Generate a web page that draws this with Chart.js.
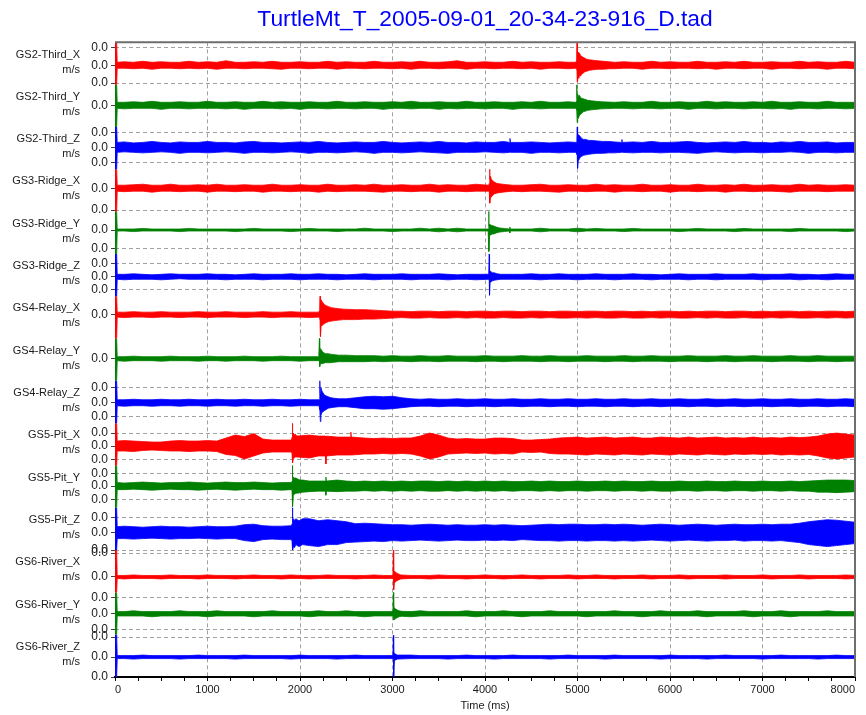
<!DOCTYPE html>
<html>
<head>
<meta charset="utf-8">
<title>TurtleMt_T_2005-09-01_20-34-23-916_D.tad</title>
<script src="https://cdn.jsdelivr.net/npm/chart.js@4.4.0/dist/chart.umd.min.js"></script>
<style>
  body { margin: 0; background: #fff; }
  canvas { display: block; }
</style>
</head>
<body>
<canvas id="seismo" width="866" height="715"></canvas>
<script>
// Geophone channels, top to bottom
const traceNames = [
  'GS2-Third_X', 'GS2-Third_Y', 'GS2-Third_Z',
  'GS3-Ridge_X', 'GS3-Ridge_Y', 'GS3-Ridge_Z',
  'GS4-Relay_X', 'GS4-Relay_Y', 'GS4-Relay_Z',
  'GS5-Pit_X', 'GS5-Pit_Y', 'GS5-Pit_Z',
  'GS6-River_X', 'GS6-River_Y', 'GS6-River_Z'
];

// amplitudes are in µm/s, axes are labelled in m/s
const UNIT = 1e-6;

// per-channel axis limits (µm/s)
const axisTop =    [23, 20.5, 20.5, 19, 18.5, 23, 18.5, 20, 22, 23, 20.5, 25, 27, 21.5, 22.5];
const axisBottom = [-19.5, -21.5, -22, -23.5, -24, -19.5, -24, -22, -20.5, -19.5, -21.5, -17.5, -15.5, -21, -20];

// grid / tick values on each channel axis (µm/s)
const gridTicks = [
  [18, 0, -18], [0], [15, 0, -15.5],
  [0, -22], [0, -19], [13.5, 0, -13],
  [0], [0], [15.5, 0, -14],
  [13, 0, -13.5], [12.5, 0, -13], [15.5, 0, -17.5],
  [24, 0], [16.5, 0, -15.5], [20, 0, -20]
];

// noise envelope sampled every 100 ms
const bandTime = [
  0, 100, 200, 300, 400, 500, 600, 700, 800, 900,
  1000, 1100, 1200, 1300, 1400, 1500, 1600, 1700, 1800, 1900,
  2000, 2100, 2200, 2300, 2400, 2500, 2600, 2700, 2800, 2900,
  3000, 3100, 3200, 3300, 3400, 3500, 3600, 3700, 3800, 3900,
  4000, 4100, 4200, 4300, 4400, 4500, 4600, 4700, 4800, 4900,
  5000, 5100, 5200, 5300, 5400, 5500, 5600, 5700, 5800, 5900,
  6000, 6100, 6200, 6300, 6400, 6500, 6600, 6700, 6800, 6900,
  7000, 7100, 7200, 7300, 7400, 7500, 7600, 7700, 7800, 7900,
  8000
];

// upper edge of the noise band, one row per channel
const bandHi = [
  [3,3.5,3,4,3,3.5,3,3,4,3, 3.5,3,4.5,3,3,3.5,3,4,3,3, 3.5,3,3,4,3,3.5,3,3,4,3, 3,3.5,3,4,3,3,3.5,4.5,3,3,
   3.5,3,3,4,3,3.5,3,3,3.5,3, 4,4,3.5,4,3,3.5,3,3,4,3, 3.5,3,3,4,3,3,3.5,3,4,3, 3,3.5,3,3,4,3,3.5,3,3,4, 3],
  [3,3,3.5,3,4,3,3,3.5,3,3, 4,3,3,3.5,3,3,4,3,3.5,3, 3,3.5,3,3,4,3,3,3.5,3,3, 3.5,3,4,3,3,3.5,3,3,4,3,
   3,3.5,3,3,3.5,3,4,3,3,3.5, 5,4.5,4,3.5,3,3.5,3,3,4,3, 3,3.5,3,3,4,3,3.5,3,3,3.5, 3,4,3,3,3.5,3,3,4,3,3, 3],
  [5,5.5,4.5,5,6,5,4.5,5.5,5,5, 6,5,5,4.5,5.5,6,5,5,4.5,5, 5.5,5,6,5,4.5,5,5.5,5,5,6, 5,4.5,5,5.5,5,6,5,5,4.5,5.5,
   5,5,6,5.5,5,5.5,5,4.5,5,5.5, 8,7,6.5,6,6,6,5.5,5,6,5, 5,5.5,6,5,4.5,5,5.5,5,6,5, 5,4.5,5.5,5,6,5,5,5.5,4.5,5, 5],
  [3,3,3.5,4,3,3,4,3,3,3.5, 3,4,3,3,3.5,3,3,4,3,3, 3.5,3,3,4,3,3,3.5,3,4,3, 3,3.5,3,3,4,3,3.5,3,3,4,
   3,3.5,4,3.5,3,3.5,4,3,3,3.5, 3,3,4,3,3.5,3,3,4,3,3, 3.5,3,3,4,3,3,3.5,3,4,3, 3,3.5,3,3,4,3,3.5,3,3,3.5, 3],
  [1,1,1,1.6,1,1,1,1,1.6,1, 1,1,1,1,1,1.6,1,1,1,1, 1,1.6,1,1,1,1,1,1.8,1,1, 1,1,1,1.8,1,1.8,1,1.8,1,1,
   1,1,1,1.8,1,1,1.8,1,1,1, 1.8,1,1.6,1,1,1,1.6,1,1,1, 1,1,1,1.6,1,1,1,1,1.6,1, 1,1,1,1,1.6,1,1,1,1,1, 1],
  [2.5,2.5,3,2.5,2,2.5,3,2.5,2.5,2.5, 3,2.5,2.5,2,2.5,3,2.5,2.5,2.5,3, 2.5,2.5,3,2.5,2.5,2,2.5,3,2.5,2.5, 2.5,3,2.5,2.5,2.5,3,2.5,2,2.5,2.5,
   2.5,3,2.5,2.5,2.5,3,2.5,2.5,3,2.5, 2.5,2.5,3,2.5,2.5,2.5,3,2.5,2.5,2, 2.5,3,2.5,2.5,2.5,3,2.5,2.5,2.5,3, 2.5,2.5,2.5,3,2.5,2.5,2,2.5,3,2.5, 2.5],
  [2.5,2.5,3,2.5,2.5,3,2.5,2.5,2.5,3, 2.5,2.5,3,2.5,2.5,2.5,3,2.5,2.5,3, 2.5,2.5,2.5,8,7,6,5,5,4.5,4, 3.5,3.5,3,3.5,3.5,3,3.5,3.5,3,3.5,
   3.5,3,3.5,3.5,3,3.5,3.5,3,3.5,3.5, 3,3.5,3.5,3,3.5,3.5,3,3.5,3,3.5, 3.5,3,3.5,3,3.5,3.5,3,3.5,3.5,3, 3.5,3,3.5,3.5,3,3.5,3,3.5,3.5,3, 3.5],
  [2,2,2.5,2,2,2,2.5,2,2,2, 2.5,2,2,2,2.5,2,2,2,2.5,2, 2,2,2,5,4,3.5,3,3,3,2.5, 3,2.5,2.5,3,2.5,2.5,3,2.5,2.5,2.5,
   3,2.5,2.5,2.5,3,2.5,2.5,3,2.5,2.5, 2.5,3,2.5,2.5,2.5,3,2.5,2.5,3,2.5, 2.5,2.5,3,2.5,2.5,2.5,3,2.5,2.5,3, 2.5,2.5,2.5,3,2.5,2.5,3,2.5,2.5,2.5, 2.5],
  [3,3,3.5,3,3,3.5,3,3,3.5,3, 3,3.5,3,3,3.5,3,3,3.5,3,3, 3.5,3,3,8,5,4,5,6,6.5,6, 6.5,5,4,3.5,4,3.5,3.5,4,3.5,3.5,
   4,3.5,3.5,4,3.5,3.5,4,3.5,3.5,4, 3.5,3.5,4,3.5,3.5,4,3.5,3.5,4,3.5, 3.5,4,3.5,3.5,4,3.5,3.5,4,3.5,3.5, 4,3.5,3.5,4,3.5,3.5,4,3.5,3.5,4, 3.5],
  [5,5.5,5,4.5,4,4,5,5.5,5,5, 5.5,5,8,11,9.5,12.5,7,6,6,6, 10,11,10,11,9,10,8,8,7.5,8, 7.5,8,8,10,13,11,8,7,7.5,7,
   7,8,8,7.5,6,6,6.5,7,8,8.5, 9,8,8.5,9,8,8.5,9,8,8,9, 8.5,8,9,8,8.5,9,8,8.5,8,9, 8,8.5,8,9,8.5,9,10,12,13,12, 11],
  [3.5,3,3.5,4,3.5,3,3.5,3.5,4,3.5, 3,3.5,4,3.5,3.5,4,3.5,3,3.5,3.5, 6,5,5,4.5,6,5,4.5,5,4.5,5, 4.5,5,4.5,5,5,4.5,5,4.5,5,4.5,
   5,4.5,5,4.5,4.5,5,4.5,5,4.5,4.5, 5,4.5,4.5,5,4.5,5,4.5,4.5,5,4.5, 4.5,5,4.5,4.5,5,4.5,4.5,5,4.5,4.5, 5,4.5,4.5,5,4.5,5,5.5,6,6,6, 5.5],
  [6,6.5,6,5.5,6,6.5,6,6,5.5,6, 6.5,6,6,6.5,8,8.5,7,6.5,6.5,7, 13,14,12,13,12,11,9,9.5,9,8.5, 8,8,7.5,8,8.5,8,7.5,8,7.5,7.5,
   8,7.5,8,7.5,7,7.5,8,8.5,8,8.5, 8.5,8,8,8.5,8,8.5,8,7.5,8,8.5, 8,7.5,8,8.5,8,7.5,8,8.5,8,8, 8.5,8,8.5,8.5,9.5,11,12,13,12.5,11.5, 10.5],
  [1.5,1.5,2,1.5,1.5,1.5,2,1.5,1.5,1.5, 2,1.5,1.5,1.5,1.5,2,1.5,1.5,1.5,2, 1.5,1.5,1.5,2,1.5,1.5,1.5,1.5,2,1.5, 1.5,2,1.5,1.5,1.5,2,1.5,1.5,1.5,1.5,
   2,1.5,1.5,1.5,2,1.5,1.5,1.5,1.5,2, 1.5,1.5,2,1.5,1.5,1.5,1.5,2,1.5,1.5, 1.5,2,1.5,1.5,1.5,1.5,2,1.5,1.5,1.5, 2,1.5,1.5,1.5,2,1.5,1.5,1.5,1.5,2, 1.5],
  [2.2,2.2,3,2.2,2.2,2.2,2.2,3,2.2,2.2, 2.2,3,2.2,2.2,2.2,2.2,2.2,3,2.2,2.2, 2.2,2.2,3,2.2,2.2,3,2.2,2.2,2.2,2.2, 2.2,2.2,2.2,3,2.2,2.2,2.2,2.2,3,2.2,
   2.2,2.2,3,2.2,2.2,2.2,2.2,3,2.2,2.2, 2.2,2.2,2.2,2.2,3,2.2,2.2,2.2,2.2,3, 2.2,2.2,2.2,3,2.2,2.2,2.2,2.2,3,2.2, 2.2,2.2,3,2.2,2.2,2.2,2.2,3,2.2,2.2, 2.2],
  [1.5,1.5,1.5,2,1.5,1.5,1.5,1.5,1.5,2, 1.5,1.5,1.5,1.5,2,1.5,1.5,1.5,1.5,1.5, 2,1.5,1.5,1.5,1.5,1.5,2,1.5,1.5,1.5, 1.5,1.5,2,1.5,1.5,1.5,1.5,1.5,2,1.5,
   1.5,1.5,1.5,2,1.5,1.5,1.5,1.5,1.5,2, 1.5,1.5,1.5,1.5,2,1.5,1.5,1.5,1.5,1.5, 2,1.5,1.5,1.5,1.5,1.5,2,1.5,1.5,1.5, 1.5,1.5,2,1.5,1.5,1.5,1.5,1.5,2,1.5, 1.5]
];

// lower edge of the noise band
const bandLo = [
  [-3,-3,-3.5,-3,-4,-3,-3,-3.5,-3,-3.5, -3,-4,-3,-3,-3.5,-3,-3,-3.5,-4,-3, -3,-3.5,-3,-3,-4,-3,-3,-3.5,-3,-3, -3.5,-3,-4,-3,-3,-3.5,-3,-3,-4,-3,
   -3,-3.5,-3,-3,-3.5,-3,-4,-3,-3,-3.5, -4,-4,-3.5,-3,-3.5,-3,-3,-4,-3,-3, -3.5,-3,-3,-3.5,-3,-4,-3,-3,-3.5,-3, -3,-4,-3,-3,-3.5,-3,-3,-4,-3,-3, -3.5],
  [-3,-3.5,-3,-3,-3,-4,-3,-3,-3.5,-3, -3,-3,-3.5,-3,-4,-3,-3,-3,-3.5,-3, -4,-3,-3,-3.5,-3,-3,-3.5,-3,-3,-4, -3,-3,-3.5,-3,-3,-4,-3,-3.5,-3,-3,
   -3.5,-3,-3,-4,-3,-3,-3.5,-3,-3,-3, -5,-4.5,-4,-3.5,-3,-3,-3.5,-3,-3,-3.5, -3,-3,-4,-3,-3,-3.5,-3,-3,-3.5,-3, -3,-3.5,-3,-4,-3,-3,-3.5,-3,-3,-3.5, -3],
  [-5,-4.5,-5,-5.5,-5,-4.5,-5,-6,-5,-5, -5.5,-5,-4.5,-5,-6,-5,-5,-5.5,-5,-4.5, -5,-6,-5,-5,-5.5,-5,-4.5,-5,-6,-5, -5,-5.5,-5,-4.5,-5,-5.5,-6,-5,-5,-5,
   -4.5,-5,-5.5,-5,-5,-6,-5,-5,-5.5,-5, -8,-7,-6.5,-6,-6,-5.5,-5.5,-5,-5,-5.5, -5,-5,-5.5,-6,-5,-4.5,-5,-5.5,-5,-5, -5.5,-5,-5,-4.5,-5,-6,-5,-5,-5.5,-5, -5],
  [-3,-3.5,-3,-3,-4,-3,-3,-3.5,-3,-3, -4,-3,-3,-3.5,-3,-3,-4,-3,-3,-3.5, -3,-3,-4,-3,-3.5,-3,-3,-3,-3.5,-4, -3,-3,-3.5,-3,-3,-4,-3,-3,-3.5,-3,
   -3,-4,-3.5,-3,-3.5,-3,-3,-3.5,-4,-3, -3,-3.5,-3,-3,-4,-3,-3,-3.5,-3,-3, -4,-3,-3,-3.5,-3,-3,-4,-3,-3,-3.5, -3,-3,-3.5,-4,-3,-3,-3,-3.5,-3,-3, -3],
  [-1,-1,-1.6,-1,-1,-1,-1,-1.6,-1,-1, -1,-1,-1,-1.6,-1,-1,-1,-1,-1,-1.6, -1,-1,-1,-1,-1.6,-1,-1,-1,-1,-1, -1.6,-1,-1,-1,-1,-1.8,-1,-1.8,-1,-1,
   -1,-1,-1,-1.8,-1,-1,-1.8,-1,-1,-1, -1.8,-1,-1,-1,-1,-1.6,-1,-1,-1,-1, -1,-1.6,-1,-1,-1,-1,-1,-1.6,-1,-1, -1,-1,-1,-1.6,-1,-1,-1,-1,-1,-1.6, -1],
  [-2.5,-3,-2.5,-2.5,-2.5,-3,-2.5,-2,-2.5,-2.5, -2.5,-2.5,-3,-2.5,-2.5,-2.5,-3,-2.5,-2.5,-2.5, -3,-2.5,-2.5,-2.5,-3,-2.5,-2.5,-2.5,-3,-2.5, -2.5,-2.5,-3,-2.5,-2.5,-2.5,-3,-2.5,-2.5,-3,
   -2.5,-2.5,-3,-2.5,-2.5,-2.5,-3,-2.5,-2.5,-2.5, -3,-2.5,-2.5,-2.5,-3,-2.5,-2.5,-2.5,-3,-2.5, -2.5,-2.5,-3,-2.5,-2.5,-3,-2.5,-2.5,-2.5,-2.5, -3,-2.5,-2.5,-2.5,-3,-2.5,-2.5,-3,-2.5,-2.5, -2.5],
  [-2.5,-3,-2.5,-2.5,-3,-2.5,-2.5,-3,-2.5,-2.5, -3,-2.5,-2.5,-2.5,-3,-2.5,-2.5,-3,-2.5,-2.5, -2.5,-3,-2.5,-7,-6,-5.5,-5,-4.5,-4.5,-4, -3.5,-3,-3.5,-3.5,-3,-3.5,-3.5,-3,-3.5,-3,
   -3.5,-3.5,-3,-3.5,-3.5,-3,-3.5,-3,-3.5,-3.5, -3,-3.5,-3,-3.5,-3.5,-3,-3.5,-3.5,-3,-3.5, -3,-3.5,-3.5,-3,-3.5,-3,-3.5,-3.5,-3,-3.5, -3.5,-3,-3.5,-3,-3.5,-3.5,-3,-3.5,-3,-3.5, -3],
  [-2,-2.5,-2,-2,-2,-2.5,-2,-2,-2,-2.5, -2,-2,-2.5,-2,-2,-2,-2.5,-2,-2,-2, -2.5,-2,-2,-4,-3.5,-3,-3,-3,-2.5,-3, -2.5,-2.5,-3,-2.5,-2.5,-3,-2.5,-2.5,-2.5,-3,
   -2.5,-2.5,-3,-2.5,-2.5,-2.5,-3,-2.5,-2.5,-3, -2.5,-2.5,-2.5,-3,-2.5,-2.5,-3,-2.5,-2.5,-2.5, -3,-2.5,-2.5,-2.5,-3,-2.5,-2.5,-3,-2.5,-2.5, -2.5,-3,-2.5,-2.5,-2.5,-3,-2.5,-2.5,-3,-2.5, -2.5],
  [-3,-3.5,-3,-3,-3.5,-3,-3,-3.5,-3,-3, -3.5,-3,-3,-3.5,-3,-3,-3.5,-3,-3,-3.5, -3,-3,-3,-8,-5,-4,-5,-6,-6,-6.5, -6,-5,-4,-3.5,-3.5,-4,-3.5,-3.5,-4,-3.5,
   -3.5,-4,-3.5,-3.5,-4,-3.5,-3.5,-4,-3.5,-3.5, -4,-3.5,-3.5,-4,-3.5,-3.5,-4,-3.5,-3.5,-4, -3.5,-3.5,-4,-3.5,-3.5,-4,-3.5,-3.5,-4,-3.5, -3.5,-4,-3.5,-3.5,-4,-3.5,-3.5,-4,-3.5,-3.5, -4],
  [-5,-5,-5.5,-4.5,-4,-4.5,-5,-5,-5.5,-5, -5,-5.5,-8.5,-9.5,-13,-10,-7,-6,-6,-6, -10,-12,-10,-10,-9,-11,-8,-8,-8,-7.5, -8,-7.5,-8,-10,-13,-11,-8,-7.5,-7,-7.5,
   -7,-8,-7.5,-8,-6,-6.5,-6,-7.5,-8,-8, -8.5,-9,-8,-8.5,-9,-8,-8.5,-9,-8,-8.5, -9,-8,-8.5,-9,-8,-8.5,-9,-8,-8.5,-8, -8.5,-8,-9,-8.5,-9,-8.5,-10,-12,-13,-12, -11],
  [-3.5,-3.5,-3,-3.5,-4,-3.5,-3,-3.5,-3.5,-4, -3.5,-3,-3.5,-4,-3.5,-3,-3.5,-3.5,-4,-3.5, -6,-5.5,-5,-5,-5.5,-5,-5,-4.5,-5,-4.5, -5,-4.5,-5,-4.5,-5,-5,-4.5,-5,-4.5,-5,
   -4.5,-5,-4.5,-5,-4.5,-4.5,-5,-4.5,-5,-4.5, -4.5,-5,-4.5,-4.5,-5,-4.5,-4.5,-5,-4.5,-5, -5,-4.5,-4.5,-5,-4.5,-4.5,-5,-4.5,-4.5,-5, -4.5,-4.5,-5,-4.5,-5,-5,-6,-6,-6.5,-6, -5.5],
  [-6,-6,-6.5,-6,-5.5,-6,-6.5,-6,-6,-5.5, -6,-6.5,-6,-6,-8,-9,-7,-6.5,-7,-7, -14,-13,-14,-12,-12,-10,-9.5,-9,-8.5,-9, -8,-8.5,-8,-7.5,-8,-8.5,-8,-7.5,-8,-8,
   -7.5,-8,-7.5,-8,-7,-7.5,-8,-8,-8.5,-8, -8,-8.5,-8,-8,-8.5,-8,-8.5,-8,-7.5,-8, -8.5,-8,-7.5,-8,-8.5,-8,-8,-7.5,-8.5,-8, -8,-8.5,-8,-9,-10,-12,-13,-14,-13,-12, -11],
  [-1.5,-2,-1.5,-1.5,-1.5,-2,-1.5,-1.5,-1.5,-2, -1.5,-1.5,-1.5,-2,-1.5,-1.5,-1.5,-1.5,-2,-1.5, -1.5,-2,-1.5,-1.5,-1.5,-1.5,-2,-1.5,-1.5,-1.5, -2,-1.5,-1.5,-1.5,-2,-1.5,-1.5,-1.5,-2,-1.5,
   -1.5,-1.5,-2,-1.5,-1.5,-1.5,-2,-1.5,-1.5,-1.5, -2,-1.5,-1.5,-1.5,-2,-1.5,-1.5,-1.5,-2,-1.5, -1.5,-1.5,-2,-1.5,-1.5,-1.5,-2,-1.5,-1.5,-1.5, -1.5,-2,-1.5,-1.5,-1.5,-2,-1.5,-1.5,-1.5,-2, -1.5],
  [-2.2,-2.2,-2.2,-2.2,-3,-2.2,-2.2,-2.2,-2.2,-2.2, -3,-2.2,-2.2,-2.2,-2.2,-3,-2.2,-2.2,-2.2,-2.2, -2.2,-3,-2.2,-2.2,-2.2,-2.2,-2.2,-3,-2.2,-2.2, -2.2,-2.2,-3,-2.2,-2.2,-2.2,-2.2,-2.2,-2.2,-3,
   -2.2,-2.2,-2.2,-2.2,-3,-2.2,-2.2,-2.2,-2.2,-2.2, -2.2,-3,-2.2,-2.2,-2.2,-2.2,-2.2,-3,-2.2,-2.2, -2.2,-2.2,-2.2,-2.2,-3,-2.2,-2.2,-2.2,-2.2,-3, -2.2,-2.2,-2.2,-3,-2.2,-2.2,-2.2,-2.2,-2.2,-2.2, -2.2],
  [-1.5,-1.5,-2,-1.5,-1.5,-1.5,-1.5,-2,-1.5,-1.5, -1.5,-1.5,-1.5,-2,-1.5,-1.5,-1.5,-1.5,-1.5,-2, -1.5,-1.5,-1.5,-1.5,-2,-1.5,-1.5,-1.5,-1.5,-1.5, -2,-1.5,-1.5,-1.5,-1.5,-1.5,-2,-1.5,-1.5,-1.5,
   -1.5,-2,-1.5,-1.5,-1.5,-1.5,-1.5,-2,-1.5,-1.5, -1.5,-1.5,-1.5,-2,-1.5,-1.5,-1.5,-1.5,-1.5,-2, -1.5,-1.5,-1.5,-1.5,-2,-1.5,-1.5,-1.5,-1.5,-1.5, -2,-1.5,-1.5,-1.5,-1.5,-1.5,-2,-1.5,-1.5,-1.5, -1.5]
];

// start-up transient and first arrivals: [time ms, upper, lower] in µm/s
const bursts = [
  [[0,23,-19.5],[18,23,-19.5],[24,3,-3],
   [4980,3,-3],[4990,5,-4],[4995,23,-6],[4999,9,-17],[5006,13,-12],[5014,11,-13],[5022,12,-10],[5032,10,-11],
   [5045,9,-9],[5060,8,-8],[5080,7,-6.5],[5100,6,-6],[5130,5.5,-5],[5170,5,-4.5],[5220,4.5,-4],[5280,4,-4],[5340,3.5,-3.5]],
  [[0,20.5,-21.5],[18,20.5,-21.5],[24,3,-3],
   [4980,3,-3],[4988,4,-4],[4992,20.5,-5],[4996,7,-17],[5002,11,-12],[5010,9,-13],[5020,10,-10],[5032,8,-9],
   [5045,7,-8],[5060,6.5,-6.5],[5080,6,-6],[5110,5,-5],[5150,4.5,-4.5],[5200,4,-4],[5260,3.5,-3.5]],
  [[0,20.5,-22],[18,20.5,-22],[24,5,-5],
   [4265,5,-5],[4270,9,-5],[4275,5,-5],
   [4985,5,-5],[4993,8,-7],[4997,20.5,-8],[5001,10,-21],[5008,13,-14],[5018,12,-12],[5030,11,-10],[5045,9,-9],
   [5065,8,-8],[5090,8,-7.5],[5120,7,-7],[5160,7,-6.5],[5210,6.5,-6],[5270,6,-6],[5340,6,-5.5],[5400,5.5,-5.5],
   [5475,5,-5],[5480,8,-5],[5485,5,-5]],
  [[0,19,-23.5],[18,19,-23.5],[24,3,-3],
   [4040,3,-3],[4046,5,-4],[4050,21,-5],[4053,9,-15],[4058,12,-10],[4066,10,-9],[4076,8,-8],[4090,7,-6.5],
   [4105,6,-5.5],[4125,5,-5],[4150,4.5,-4.5],[4190,4,-4],[4240,3.5,-3.5],[4300,3,-3]],
  [[0,18.5,-24],[18,18.5,-24],[24,1,-1],
   [4034,1,-1],[4040,22,-3],[4043,4,-21.5],[4050,6,-5],[4062,5,-5],[4078,4.5,-4],[4095,4,-4],[4120,3,-3],
   [4160,2,-2],[4210,1.5,-1.5],[4262,1,-1],[4268,3,-3],[4274,1,-1]],
  [[0,23,-19.5],[18,23,-19.5],[24,2.5,-2.5],
   [4040,2.5,-2.5],[4046,25,-4],[4049,5,-18.5],[4055,6,-6],[4065,5,-5],[4080,4,-4],[4100,4,-3.5],[4130,3,-3],[4170,2.5,-2.5]],
  [[0,18.5,-24],[18,18.5,-24],[24,2.5,-2.5],
   [2205,2.5,-2.5],[2212,5,-4],[2217,19.5,-6],[2221,8,-22],[2228,15,-12],[2238,13,-11],[2250,12,-10],[2265,10,-9],
   [2285,9,-8],[2310,8,-7],[2340,7,-6.5],[2375,6.5,-6],[2420,6,-5.5],[2470,5.5,-5]],
  [[0,20,-22],[18,20,-22],[24,2,-2],
   [2203,2,-2],[2210,22,-3],[2213,5,-8],[2220,10,-5],[2230,9,-5],[2242,7,-5],[2256,6,-4.5],[2275,5,-4],
   [2300,5,-4],[2330,4.5,-4],[2370,4,-3.5],[2420,3.5,-3]],
  [[0,22,-20.5],[18,22,-20.5],[24,3,-3],
   [2206,3,-3],[2212,6,-5],[2216,22.5,-7],[2220,9,-19],[2226,15,-13],[2236,12,-10],[2248,10,-9],[2262,8,-8],
   [2280,7,-7],[2305,6,-5.5],[2335,5,-5],[2370,4.5,-4.5],[2420,4,-4]],
  [[0,23,-19.5],[18,23,-19.5],[24,5,-5],
   [1908,6,-6],[1914,9,-8],[1918,24,-9],[1921,10,-17],[1928,13,-12],[1938,11,-12],[1950,12,-11],[1965,10,-11],
   [2275,10,-10],[2280,8,-18],[2285,10,-10],
   [2545,9,-9],[2550,14,-9],[2555,9,-9]],
  [[0,20.5,-21.5],[18,20.5,-21.5],[24,3.5,-3.5],
   [1908,3.5,-3.5],[1914,5,-5],[1918,21,-6],[1921,8,-20.5],[1928,9,-9],[1940,8,-8],[1955,8,-7],[1975,7,-7],
   [2000,6,-6.5],[2030,6,-6],
   [2275,5,-5],[2280,9,-9],[2285,5,-5]],
  [[0,25,-17.5],[18,25,-17.5],[24,6,-6],
   [1908,7,-7],[1914,9,-9],[1918,26,-10],[1922,10,-17.5],[1930,14,-14],[1942,12,-15],[1955,14,-12],[1970,13,-13],
   [1990,12,-14],[2030,14,-12]],
  [[0,27,-15.5],[18,27,-15.5],[24,1.5,-1.5],
   [3004,1.5,-1.5],[3010,27,-3],[3013,5,-13],[3020,6,-6],[3030,5,-5],[3045,4,-4],[3065,3,-3],[3090,2,-2]],
  [[0,21.5,-21],[18,21.5,-21],[24,2.2,-2.2],
   [3004,2.2,-2.2],[3010,24,-4],[3013,6,-6],[3020,6,-6],[3032,5,-5],[3048,4,-4],[3070,3,-3],[3100,2.5,-2.5]],
  [[0,22.5,-20],[18,22.5,-20],[24,1.5,-1.5],
   [3004,1.5,-1.5],[3010,22,-3],[3013,4,-20],[3020,4,-4],[3032,3,-3],[3050,2,-2]]
];

const traceColors = ['#ff0000', '#008000', '#0000ff'];

Chart.defaults.font.family = '"Liberation Sans", Arial, sans-serif';
Chart.defaults.color = '#1a1a1a';

const fmtMs = v => (v * UNIT).toFixed(1).replace('-0.0', '0.0');

// band samples near a burst are replaced by the burst samples
const tracePoints = i => {
  const ev = bursts[i];
  const pts = [];
  bandTime.forEach((t, k) => {
    if (!ev.some(p => Math.abs(p[0] - t) < 60)) pts.push([t, bandHi[i][k], bandLo[i][k]]);
  });
  ev.forEach(p => pts.push(p));
  return pts.sort((a, b) => a[0] - b[0]);
};

const datasets = [];
const scales = {
  x: {
    type: 'linear',
    min: 0,
    max: 8000,
    afterFit: (s) => { s.height = 38; s.paddingLeft = 0; s.paddingRight = 0; },
    ticks: {
      stepSize: 250,
      autoSkip: false,
      maxRotation: 0,
      align: 'inner',
      padding: 2,
      font: { size: 11 },
      callback: (v) => (v % 1000 === 0 ? String(v) : ''),
    },
    grid: {
      color: (ctx) => (ctx.tick && ctx.tick.value % 1000 === 0 ? '#a0a0a0' : 'rgba(0,0,0,0)'),
      tickColor: '#000',
      tickLength: 4,
    },
    border: { display: true, color: '#000', width: 2, dash: [4, 3] },
    title: { display: true, text: 'Time (ms)', font: { size: 11 }, padding: { top: 0, bottom: 2 } },
  },
};

traceNames.forEach((name, i) => {
  const color = traceColors[i % 3];
  const id = 'y' + i;
  const pts = tracePoints(i);

  datasets.push({
    label: name,
    yAxisID: id,
    data: pts.map(p => ({ x: p[0], y: p[1] })),
    borderColor: color,
    backgroundColor: color,
    borderWidth: 0.8,
    pointRadius: 0,
    tension: 0,
    fill: '+1',
  });
  datasets.push({
    label: name + ' low',
    yAxisID: id,
    data: pts.map(p => ({ x: p[0], y: p[2] })),
    borderColor: color,
    borderWidth: 0.8,
    pointRadius: 0,
    tension: 0,
    fill: false,
  });

  scales[id] = {
    type: 'linear',
    position: 'left',
    stack: 'traces',
    stackWeight: 1,
    weight: 100 - i,
    min: axisBottom[i],
    max: axisTop[i],
    afterBuildTicks: (s) => { s.ticks = gridTicks[i].map(v => ({ value: v })); },
    afterFit: (s) => { s.width = 115; s.paddingTop = 0; s.paddingBottom = 0; },
    ticks: { autoSkip: false, padding: 3, font: { size: 12 }, callback: fmtMs },
    grid: { color: '#a0a0a0', tickColor: '#404040', tickLength: 4 },
    border: { display: false, dash: [4, 3] },
  };
});

// station / component names and units left of each axis
const traceLabels = {
  id: 'traceLabels',
  afterDraw(chart) {
    const { ctx } = chart;
    ctx.save();
    ctx.font = '11px "Liberation Sans", Arial, sans-serif';
    ctx.fillStyle = '#1a1a1a';
    ctx.textAlign = 'right';
    ctx.textBaseline = 'middle';
    traceNames.forEach((name, i) => {
      const s = chart.scales['y' + i];
      const mid = (s.top + s.bottom) / 2;
      ctx.fillText(name, 80, mid - 9);
      ctx.fillText('m/s', 80, mid + 6);
    });
    ctx.restore();
  },
};

// top and right edges of the plot frame
const plotFrame = {
  id: 'plotFrame',
  afterDatasetsDraw(chart) {
    const { ctx, chartArea: { left, top, right, bottom } } = chart;
    ctx.save();
    ctx.strokeStyle = '#6e6e6e';
    ctx.lineWidth = 2;
    ctx.beginPath();
    ctx.moveTo(left, top);
    ctx.lineTo(right, top);
    ctx.lineTo(right, bottom);
    ctx.stroke();
    ctx.restore();
  },
};

new Chart(document.getElementById('seismo'), {
  type: 'line',
  data: { datasets },
  options: {
    responsive: false,
    devicePixelRatio: 1,
    animation: false,
    layout: { padding: { left: 0, right: 11, top: 0, bottom: 0 } },
    scales,
    plugins: {
      legend: { display: false },
      tooltip: { enabled: false },
      title: {
        display: true,
        fullSize: false,
        text: 'TurtleMt_T_2005-09-01_20-34-23-916_D.tad',
        color: '#0000ff',
        font: { size: 22.8, weight: 'normal' },
        padding: { top: 6, bottom: 9 },
      },
    },
    elements: { line: { borderJoinStyle: 'round' } },
  },
  plugins: [traceLabels, plotFrame],
});
</script>
</body>
</html>
